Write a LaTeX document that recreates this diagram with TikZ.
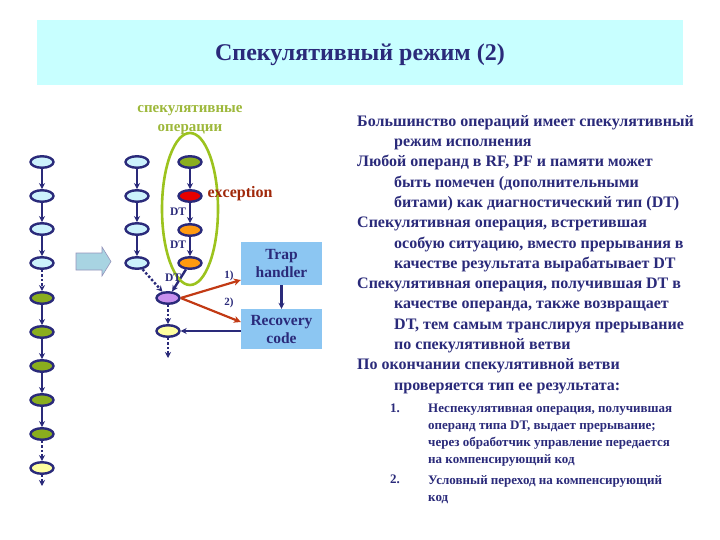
\documentclass[tikz,border=0pt]{standalone}
\usepackage{fontspec}
\setmainfont{Liberation Serif}
\usetikzlibrary{shapes.geometric,arrows.meta}
\definecolor{navy}{HTML}{2A2A7A}
\definecolor{titlebg}{HTML}{C8FFFF}
\definecolor{cyanop}{HTML}{CCF2FC}
\definecolor{greenop}{HTML}{8AAE1E}
\definecolor{redop}{HTML}{E80000}
\definecolor{orangeop}{HTML}{FF9A10}
\definecolor{purpleop}{HTML}{C890EE}
\definecolor{yellowop}{HTML}{FFFFA0}
\definecolor{specgreen}{HTML}{9CC31E}
\definecolor{speclabel}{HTML}{9DB83A}
\definecolor{boxblue}{HTML}{8CC6F2}
\definecolor{arrowblue}{HTML}{A8D4E2}
\definecolor{redarrow}{HTML}{C23A14}
\definecolor{exc}{HTML}{A0280A}
\tikzset{
  op/.style={ellipse,draw=navy,line width=2.4pt,minimum width=23pt,minimum height=11.5pt,inner sep=0pt},
  cy/.style={op,fill=cyanop},
  gr/.style={op,fill=greenop},
  flow/.style={draw=navy,line width=2.4pt,-{Stealth[length=6pt,width=6pt]}},
  dflow/.style={flow,dotted},
  rflow/.style={draw=redarrow,line width=2.2pt,-{Stealth[length=7pt,width=7pt]}},
  dtlab/.style={font=\fontsize{11.5}{12}\selectfont\bfseries,text=navy,inner sep=0pt},
  bluebox/.style={fill=boxblue,text=navy,align=center,font=\fontsize{15.5}{18}\selectfont\bfseries,minimum width=81pt,inner sep=0pt}
}
\begin{document}
\begin{tikzpicture}[x=1pt,y=-1pt]
\useasboundingbox (0,0) rectangle (720,540);
\fill[white] (0,0) rectangle (720,540);
% title
\node[fill=titlebg,minimum width=646pt,minimum height=65pt,inner sep=0pt] (titlebox) at (360,52.5) {};
\node[text=navy,font=\fontsize{24}{26}\selectfont\bfseries] (title) at (360,55) {Спекулятивный режим (2)};
% left column
\foreach \i/\y in {1/162,2/196,3/229,4/263}{\node[cy] (l\i) at (42,\y) {};}
\foreach \i/\y in {5/298,6/332,7/366,8/400,9/434}{\node[gr] (l\i) at (42,\y) {};}
\node[op,fill=yellowop] (l10) at (42,468) {};
\coordinate (le) at (42,486);
\draw[flow] (l1) -- (l2);
\draw[flow] (l2) -- (l3);
\draw[flow] (l3) -- (l4);
\draw[dflow] (l4) -- (l5);
\draw[flow] (l5) -- (l6);
\draw[flow] (l6) -- (l7);
\draw[flow] (l7) -- (l8);
\draw[flow] (l8) -- (l9);
\draw[dflow] (l9) -- (l10);
\draw[dflow] (l10) -- (le);
% big arrow
\draw[draw=navy!50,line width=0.6pt,fill=arrowblue,line join=miter]
  (76,253) -- (102,253) -- (102,247) -- (111,261.5) -- (102,276) -- (102,270) -- (76,270) -- cycle;
% middle column
\foreach \i/\y in {1/162,2/196,3/229,4/263}{\node[cy] (m\i) at (137,\y) {};}
\node[op,fill=purpleop] (mp) at (168,298) {};
\node[op,fill=yellowop] (my) at (168,331) {};
\coordinate (me) at (168,358);
\draw[flow] (m1) -- (m2);
\draw[flow] (m2) -- (m3);
\draw[flow] (m3) -- (m4);
\draw[dflow] (m4) -- (mp);
\draw[dflow] (mp) -- (my);
\draw[dflow] (my) -- (me);
% speculative column
\node[op,fill=greenop] (s1) at (190,162) {};
\node[op,fill=redop] (s2) at (190,196) {};
\node[op,fill=orangeop] (s3) at (190,230) {};
\node[op,fill=orangeop] (s4) at (190,263) {};
\draw[flow] (s1) -- (s2);
\draw[flow] (s2) -- (s3);
\draw[flow] (s3) -- (s4);
\draw[flow] (s4) -- (mp);
\node[ellipse,draw=specgreen,line width=2.6pt,minimum width=56pt,minimum height=152pt,inner sep=0pt] (spec) at (190,209) {};
\node[text=speclabel,align=center,font=\fontsize{15}{19}\selectfont\bfseries] (speclab) at (190,120) {спекулятивные\\операции};
\node[text=exc,font=\fontsize{16}{18}\selectfont\bfseries] (exclab) at (240,194) {exception};
\node[dtlab] (dt1) at (178,212) {DT};
\node[dtlab] (dt2) at (178,245) {DT};
\node[dtlab] (dt3) at (173,278) {DT};
% boxes
\node[bluebox,minimum height=43pt] (trap) at (281.5,263.5) {Trap\\handler};
\node[bluebox,minimum height=40pt] (rec) at (281.5,329) {Recovery\\code};
\draw[flow] (trap) -- (rec);
\draw[flow] (rec.west |- my) -- (my);
\coordinate (t1) at (trap.west |- 0,280);
\coordinate (r1) at (rec.west |- 0,322);
\draw[rflow] (mp.east) -- (t1);
\draw[rflow] (mp.east) -- (r1);
\node[dtlab,font=\fontsize{11}{12}\selectfont\bfseries] (one) at (229,276) {1)};
\node[dtlab,font=\fontsize{11}{12}\selectfont\bfseries] (two) at (229,303) {2)};
% right text
\node[anchor=north west,align=left,text=navy,inner sep=0pt,font=\fontsize{16}{20.3}\selectfont\bfseries] (txt) at (357,115) {%
Большинство операций имеет спекулятивный\\
\hspace*{37pt}режим исполнения\\
Любой операнд в RF, PF и памяти может\\
\hspace*{37pt}быть помечен (дополнительными\\
\hspace*{37pt}битами) как диагностический тип (DT)\\
Спекулятивная операция, встретившая\\
\hspace*{37pt}особую ситуацию, вместо прерывания в\\
\hspace*{37pt}качестве результата вырабатывает DT\\
Спекулятивная операция, получившая DT в\\
\hspace*{37pt}качестве операнда, также возвращает\\
\hspace*{37pt}DT, тем самым транслируя прерывание\\
\hspace*{37pt}по спекулятивной ветви\\
По окончании спекулятивной ветви\\
\hspace*{37pt}проверяется тип ее результата:};
\node[anchor=north west,text=navy,inner sep=0pt,font=\fontsize{13}{17}\selectfont\bfseries] (n1) at (390,404) {1.};
\node[anchor=north west,align=left,text=navy,inner sep=0pt,font=\fontsize{13}{17}\selectfont\bfseries] (i1) at (428,404) {Неспекулятивная операция, получившая\\операнд типа DT, выдает прерывание;\\через обработчик управление передается\\на компенсирующий код};
\node[anchor=north west,text=navy,inner sep=0pt,font=\fontsize{13}{17}\selectfont\bfseries] (n2) at (390,475) {2.};
\node[anchor=north west,align=left,text=navy,inner sep=0pt,font=\fontsize{13}{17}\selectfont\bfseries] (i2) at (428,475) {Условный переход на компенсирующий\\код};
\end{tikzpicture}
\end{document}
